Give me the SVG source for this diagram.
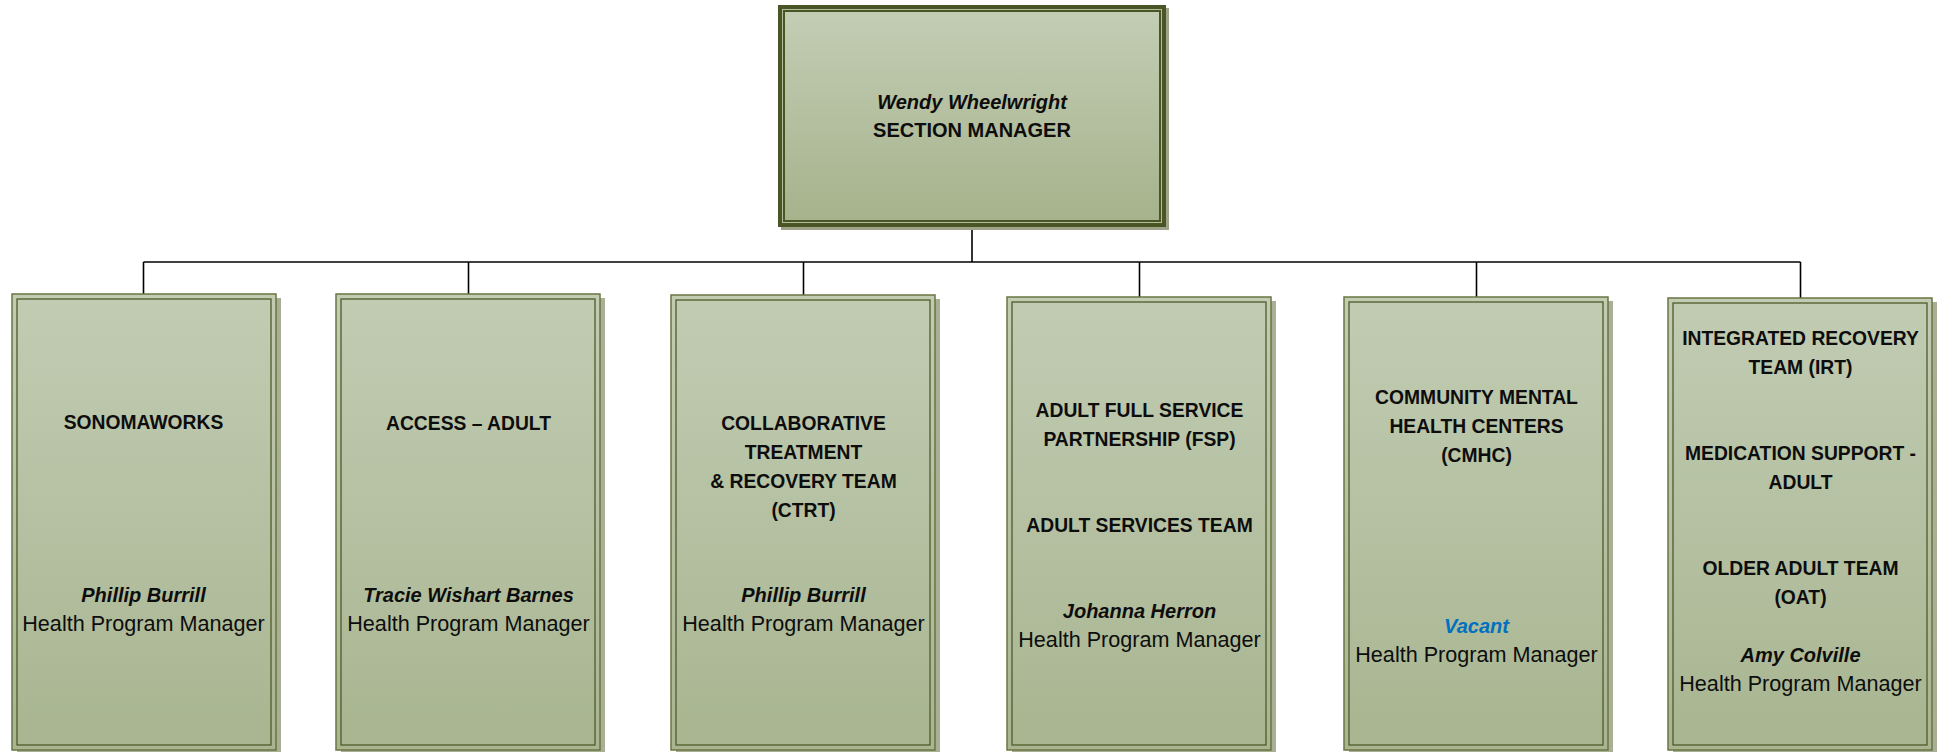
<svg xmlns="http://www.w3.org/2000/svg" width="1944" height="752" viewBox="0 0 1944 752">
<defs>
<linearGradient id="gChild" x1="0" y1="0" x2="0" y2="1">
<stop offset="0" stop-color="#c1ccb3"/>
<stop offset="1" stop-color="#a8b590"/>
</linearGradient>
<linearGradient id="gTop" x1="0" y1="0" x2="0" y2="1">
<stop offset="0" stop-color="#c3ceb5"/>
<stop offset="1" stop-color="#a5b28b"/>
</linearGradient>
<style>
.shadow{fill:#a9ae97}
.box{fill:url(#gChild);stroke:#6a7541;stroke-width:1.5}
.inner{fill:none;stroke:#4f5a2b;stroke-width:1.3}
.conn{stroke:#000;stroke-width:1.6;fill:none}
text{font-family:"Liberation Sans",Arial,sans-serif;text-anchor:middle;fill:#0d0d0d}
.t{font-weight:bold;font-size:19.3px}
.n{font-weight:bold;font-style:italic;font-size:20px}
.r{font-size:21.6px}
.v{fill:#0070c0}
</style>
</defs>

<g id="connectors">
<line class="conn" x1="972" y1="227" x2="972" y2="262"/>
<line class="conn" x1="143.5" y1="262" x2="1800.5" y2="262"/>
<line class="conn" x1="143.5" y1="262" x2="143.5" y2="294"/>
<line class="conn" x1="468.5" y1="262" x2="468.5" y2="294"/>
<line class="conn" x1="803.5" y1="262" x2="803.5" y2="295"/>
<line class="conn" x1="1139.5" y1="262" x2="1139.5" y2="297"/>
<line class="conn" x1="1476.5" y1="262" x2="1476.5" y2="297"/>
<line class="conn" x1="1800.5" y1="262" x2="1800.5" y2="298"/>
</g>

<g id="section-manager">
<rect x="781" y="8" width="388" height="222" fill="#9ea38a"/>
<rect x="778" y="5" width="388" height="222" fill="url(#gTop)"/>
<rect x="780" y="7" width="384" height="218" fill="none" stroke="#4a5526" stroke-width="4"/>
<rect x="782.5" y="9.5" width="379" height="213" fill="none" stroke="#b3be9b" stroke-width="1"/>
<rect x="784" y="11" width="376" height="210" fill="none" stroke="#4a5526" stroke-width="2"/>
<text class="n" x="972" y="109">Wendy Wheelwright</text>
<text class="t" x="972" y="137" style="font-size:20px">SECTION MANAGER</text>
</g>

<g id="sonomaworks">
<rect class="shadow" x="17" y="298" width="264" height="456"/>
<rect class="box" x="12" y="294" width="264" height="456"/>
<rect class="inner" x="17" y="299" width="254" height="446"/>
<text class="t" x="143.5" y="428.5">SONOMAWORKS</text>
<text class="n" x="143.5" y="602">Phillip Burrill</text>
<text class="r" x="143.5" y="630.5">Health Program Manager</text>
</g>

<g id="access-adult">
<rect class="shadow" x="341" y="298" width="264" height="456"/>
<rect class="box" x="336" y="294" width="264" height="456"/>
<rect class="inner" x="341" y="299" width="254" height="446"/>
<text class="t" x="468.5" y="430">ACCESS – ADULT</text>
<text class="n" x="468.5" y="602">Tracie Wishart Barnes</text>
<text class="r" x="468.5" y="630.5">Health Program Manager</text>
</g>

<g id="ctrt">
<rect class="shadow" x="676" y="299" width="264" height="455"/>
<rect class="box" x="671" y="295" width="264" height="455"/>
<rect class="inner" x="676" y="300" width="254" height="445"/>
<text class="t" x="803.5" y="430">COLLABORATIVE</text>
<text class="t" x="803.5" y="459">TREATMENT</text>
<text class="t" x="803.5" y="488">&amp; RECOVERY TEAM</text>
<text class="t" x="803.5" y="517">(CTRT)</text>
<text class="n" x="803.5" y="602">Phillip Burrill</text>
<text class="r" x="803.5" y="630.5">Health Program Manager</text>
</g>

<g id="fsp">
<rect class="shadow" x="1012" y="301" width="264" height="453"/>
<rect class="box" x="1007" y="297" width="264" height="453"/>
<rect class="inner" x="1012" y="302" width="254" height="443"/>
<text class="t" x="1139.5" y="417">ADULT FULL SERVICE</text>
<text class="t" x="1139.5" y="446">PARTNERSHIP (FSP)</text>
<text class="t" x="1139.5" y="532">ADULT SERVICES TEAM</text>
<text class="n" x="1139.5" y="618">Johanna Herron</text>
<text class="r" x="1139.5" y="647">Health Program Manager</text>
</g>

<g id="cmhc">
<rect class="shadow" x="1349" y="301" width="264" height="453"/>
<rect class="box" x="1344" y="297" width="264" height="453"/>
<rect class="inner" x="1349" y="302" width="254" height="443"/>
<text class="t" x="1476.5" y="404">COMMUNITY MENTAL</text>
<text class="t" x="1476.5" y="433">HEALTH CENTERS</text>
<text class="t" x="1476.5" y="462">(CMHC)</text>
<text class="n v" x="1476.5" y="633">Vacant</text>
<text class="r" x="1476.5" y="662">Health Program Manager</text>
</g>

<g id="irt">
<rect class="shadow" x="1673" y="302" width="264" height="452"/>
<rect class="box" x="1668" y="298" width="264" height="452"/>
<rect class="inner" x="1673" y="303" width="254" height="442"/>
<text class="t" x="1800.5" y="345">INTEGRATED RECOVERY</text>
<text class="t" x="1800.5" y="374">TEAM (IRT)</text>
<text class="t" x="1800.5" y="460">MEDICATION SUPPORT -</text>
<text class="t" x="1800.5" y="489">ADULT</text>
<text class="t" x="1800.5" y="575">OLDER ADULT TEAM</text>
<text class="t" x="1800.5" y="604">(OAT)</text>
<text class="n" x="1800.5" y="662">Amy Colville</text>
<text class="r" x="1800.5" y="691">Health Program Manager</text>
</g>
</svg>
